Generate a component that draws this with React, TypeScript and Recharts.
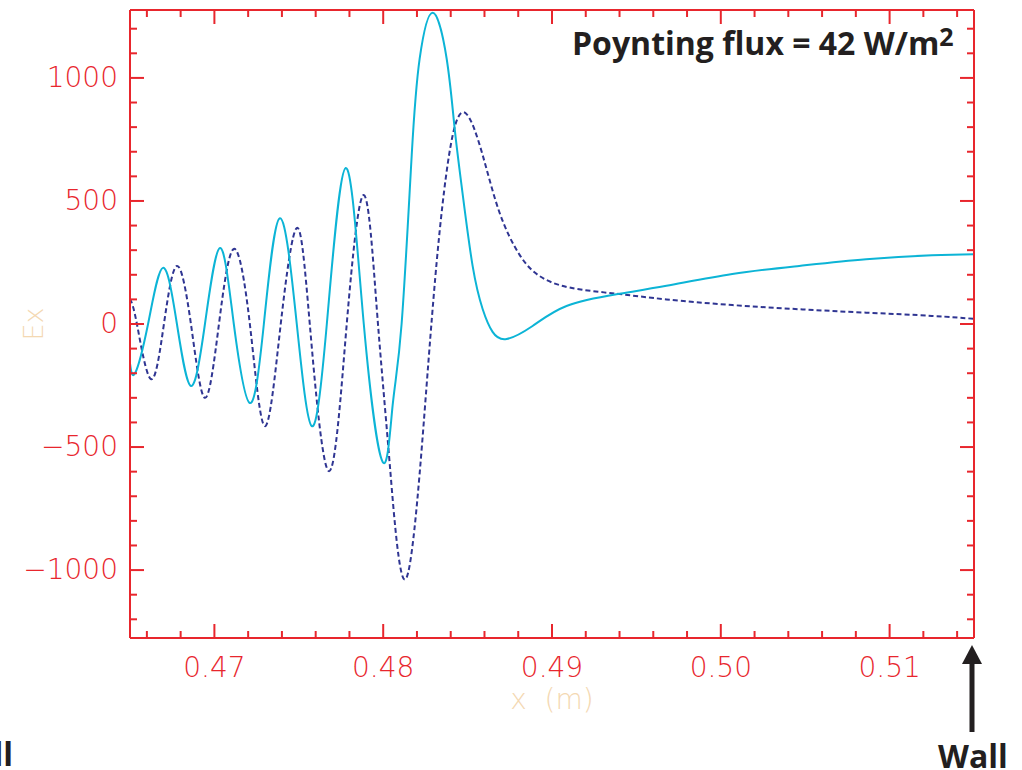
import React from 'react'
import { LineChart, Line, XAxis, YAxis } from 'recharts'

// x positions (m) and Ex values
const solidX = [
  0.465, 0.4653, 0.46607, 0.46695, 0.46778, 0.46861, 0.46944, 0.47033, 0.47115, 0.4721,
  0.47293, 0.47388, 0.47488, 0.47577, 0.47666, 0.47778, 0.47885, 0.47997, 0.48056, 0.48109,
  0.48169, 0.48216, 0.48293, 0.48376, 0.48423, 0.4847, 0.4853, 0.48589, 0.48648, 0.48731,
  0.48885, 0.49086, 0.49382, 0.49678, 0.50068, 0.50464, 0.50861, 0.51251, 0.515,
]
const solidEx = [
  -160, -200, 0, 228, 0, -252, 0, 309, 0, -321,
  0, 430, 0, -415, 0, 634, 0, -561, -330, 0,
  687, 1078, 1265, 1078, 797, 532, 235, 61, -32, -61,
  -8, 73, 121, 155, 203, 236, 263, 279, 283,
]

const dashedX = [
  0.465, 0.46541, 0.46624, 0.46701, 0.46778, 0.46861, 0.46944, 0.47027, 0.47115, 0.4721,
  0.47299, 0.47393, 0.47488, 0.47565, 0.47678, 0.47784, 0.47885, 0.47962, 0.48038, 0.48139,
  0.48257, 0.48334, 0.48411, 0.48494, 0.48589, 0.48689, 0.48808, 0.48926, 0.49104, 0.49382,
  0.49678, 0.50068, 0.50464, 0.50861, 0.51251, 0.515,
]
const dashedEx = [
  102, 0, -224, 0, 236, 0, -300, 0, 305, 0,
  -415, 0, 390, 0, -598, 0, 524, 62, -563, -1030,
  -251, 374, 765, 853, 687, 453, 281, 195, 148, 123,
  100, 77, 60, 46, 33, 21,
]

const xTicks = [
  0.466, 0.468, 0.47, 0.472, 0.474, 0.476, 0.478, 0.48, 0.482, 0.484, 0.486, 0.488, 0.49,
  0.492, 0.494, 0.496, 0.498, 0.5, 0.502, 0.504, 0.506, 0.508, 0.51, 0.512, 0.514,
]
const xMajor = [0.47, 0.48, 0.49, 0.5, 0.51]
const yTicks = [
  -1200, -1100, -1000, -900, -800, -700, -600, -500, -400, -300, -200, -100, 0,
  100, 200, 300, 400, 500, 600, 700, 800, 900, 1000, 1100, 1200,
]
const yMajor = [-1000, -500, 0, 500, 1000]

const solidData = solidX.map((x, i) => ({ x, ex: solidEx[i] }))
const dashedData = dashedX.map((x, i) => ({ x, ex: dashedEx[i] }))

const RED = '#e8262d'
const BEIGE = '#f4d8b2'
const CYAN = '#0cb4d6'
const NAVY = '#2f3592'
const INK = '#231f20'
const tickFont = "'DejaVu Sans', sans-serif"
const boldFont = "'Open Sans', sans-serif"

const isMajorX = (v: number) => xMajor.some((m) => Math.abs(m - v) < 1e-9)
const isMajorY = (v: number) => yMajor.includes(v)
const fmtY = (v: number) => (v < 0 ? '\u2212' + Math.abs(v) : String(v))

const BottomTick = ({ x, y, payload }: any) => {
  const major = isMajorX(payload.value)
  return (
    <g>
      <line x1={x} x2={x} y1={y} y2={y - (major ? 14 : 7)} stroke={RED} strokeWidth={2} />
      {major && (
        <text x={x} y={y + 39} textAnchor="middle" fill={RED} fontSize={28} fontWeight={200} fontFamily={tickFont}>
          {payload.value.toFixed(2)}
        </text>
      )}
    </g>
  )
}

const TopTick = ({ x, y, payload }: any) => {
  const major = isMajorX(payload.value)
  return <line x1={x} x2={x} y1={y} y2={y + (major ? 14 : 7)} stroke={RED} strokeWidth={2} />
}

const LeftTick = ({ x, y, payload }: any) => {
  const major = isMajorY(payload.value)
  return (
    <g>
      <line x1={x} x2={x + (major ? 14 : 7)} y1={y} y2={y} stroke={RED} strokeWidth={2} />
      {major && (
        <text x={x - 12} y={y + 9} textAnchor="end" fill={RED} fontSize={28} fontWeight={200} fontFamily={tickFont}>
          {fmtY(payload.value)}
        </text>
      )}
    </g>
  )
}

const RightTick = ({ x, y, payload }: any) => {
  const major = isMajorY(payload.value)
  return <line x1={x} x2={x - (major ? 14 : 7)} y1={y} y2={y} stroke={RED} strokeWidth={2} />
}

const App = () => {
  return (
    <div style={{ position: 'absolute', left: 0, top: 0, width: 1022, height: 770, background: '#fff', overflow: 'hidden' }}>
      <LineChart width={1022} height={770} margin={{ top: 0, right: 0, bottom: 0, left: 0 }}>
        <XAxis
          xAxisId="b"
          dataKey="x"
          type="number"
          domain={[0.465, 0.515]}
          allowDataOverflow
          ticks={xTicks}
          interval={0}
          height={132}
          tickSize={0}
          tickMargin={0}
          tick={<BottomTick />}
          axisLine={{ stroke: RED, strokeWidth: 2 }}
          label={({ viewBox }: any) => (
            <text
              x={viewBox.x + viewBox.width / 2}
              y={viewBox.y + 71}
              textAnchor="middle"
              fill={BEIGE}
              fontSize={28}
              fontWeight={200}
              fontFamily={tickFont}
              style={{ whiteSpace: 'pre' }}
            >
              {'x  (m)'}
            </text>
          )}
        />
        <XAxis
          xAxisId="t"
          orientation="top"
          dataKey="x"
          type="number"
          domain={[0.465, 0.515]}
          allowDataOverflow
          ticks={xTicks}
          interval={0}
          height={10}
          tickSize={0}
          tickMargin={0}
          tick={<TopTick />}
          axisLine={{ stroke: RED, strokeWidth: 2 }}
        />
        <YAxis
          yAxisId="l"
          type="number"
          domain={[-1276, 1276]}
          allowDataOverflow
          ticks={yTicks}
          interval={0}
          width={130}
          tickSize={0}
          tickMargin={0}
          tick={<LeftTick />}
          axisLine={{ stroke: RED, strokeWidth: 2 }}
          label={({ viewBox }: any) => {
            const cx = viewBox.x + 33
            const cy = viewBox.y + viewBox.height / 2
            return (
              <text
                x={cx}
                y={cy}
                transform={`rotate(-90 ${cx} ${cy})`}
                textAnchor="middle"
                dominantBaseline="central"
                fill={BEIGE}
                fontSize={27}
                fontWeight={200}
                fontFamily={tickFont}
              >
                Ex
              </text>
            )
          }}
        />
        <YAxis
          yAxisId="r"
          orientation="right"
          type="number"
          domain={[-1276, 1276]}
          allowDataOverflow
          ticks={yTicks}
          interval={0}
          width={48}
          tickSize={0}
          tickMargin={0}
          tick={<RightTick />}
          axisLine={{ stroke: RED, strokeWidth: 2 }}
        />
        <Line
          xAxisId="b"
          yAxisId="l"
          data={dashedData}
          dataKey="ex"
          type="natural"
          stroke={NAVY}
          strokeWidth={2}
          strokeDasharray="5 3"
          dot={false}
          isAnimationActive={false}
        />
        <Line
          xAxisId="b"
          yAxisId="l"
          data={solidData}
          dataKey="ex"
          type="natural"
          stroke={CYAN}
          strokeWidth={2}
          dot={false}
          isAnimationActive={false}
        />
      </LineChart>
      <svg width={1022} height={770} style={{ position: 'absolute', left: 0, top: 0, pointerEvents: 'none' }}>
        <text x={572} y={55} fill={INK} fontSize={32} fontWeight={700} fontFamily={boldFont}>
          Poynting flux = 42 W/m
          <tspan fontSize={25} dy={-9}>2</tspan>
        </text>
        <text x={13} y={766} textAnchor="end" fill={INK} fontSize={32} fontWeight={700} fontFamily={boldFont}>
          Wall
        </text>
        <text x={938} y={768} fill={INK} fontSize={32} fontWeight={700} fontFamily={boldFont}>
          Wall
        </text>
        <rect x={969.5} y={660} width={5} height={72} fill={INK} />
        <polygon points="962,664 982,664 972,645" fill={INK} />
      </svg>
    </div>
  )
}

export default App
